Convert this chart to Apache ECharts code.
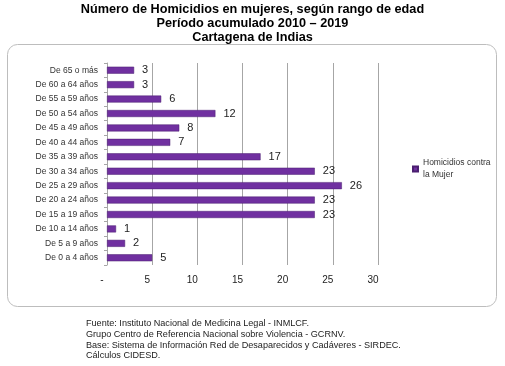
<!DOCTYPE html>
<html><head><meta charset="utf-8">
<script src="https://cdn.jsdelivr.net/npm/echarts@6/dist/echarts.min.js"></script>
<style>html,body{margin:0;padding:0;background:#fff}#c{width:505px;height:366px}</style>
</head><body><div id="c"></div>
<script>
const categories = ["De 0 a 4 años","De 5 a 9 años","De 10 a 14 años","De 15 a 19 años","De 20 a 24 años","De 25 a 29 años","De 30 a 34 años","De 35 a 39 años","De 40 a 44 años","De 45 a 49 años","De 50 a 54 años","De 55 a 59 años","De 60 a 64 años","De 65 o más"];
const values = [5,2,1,23,23,26,23,17,7,8,12,6,3,3];
const seriesName = "Homicidios contra\nla Mujer";
const titleLines = ["Número de Homicidios en mujeres, según rango de edad","Período acumulado 2010 – 2019","Cartagena de Indias"];
const footerLines = ["Fuente: Instituto Nacional de Medicina Legal - INMLCF.","Grupo Centro de Referencia Nacional sobre Violencia - GCRNV.","Base: Sistema de Información Red de Desaparecidos y Cadáveres - SIRDEC.","Cálculos CIDESD."];

const chart = echarts.init(document.getElementById('c'));
chart.setOption({
  animation:false,
  title:{text:titleLines.join('\n'),left:'center',top:-3,itemGap:0,padding:[5,0,5,7],
    textStyle:{fontFamily:'Liberation Sans',fontWeight:'bold',fontSize:12.7,lineHeight:14,color:'#000'}},
  graphic:[
    {type:'rect',shape:{x:7.5,y:44.5,width:489,height:262,r:10},style:{fill:'none',stroke:'#bdbdbd',lineWidth:1}},
    {type:'text',left:86,top:318,style:{text:footerLines.join('\n'),font:'9.1px "Liberation Sans"',lineHeight:10.8,fill:'#222'}}
  ],
  legend:{orient:'vertical',left:407,top:152,itemWidth:5,itemHeight:5,icon:'rect',itemGap:4,
    textStyle:{fontFamily:'Liberation Sans',fontSize:8.5,color:'#333',lineHeight:12}},
  grid:{left:107,right:127,top:63,bottom:101,containLabel:false},
  xAxis:{type:'value',min:0,max:30,interval:5,
    axisLine:{show:false},axisTick:{show:false},
    splitLine:{show:true,lineStyle:{color:'#a6a6a6',width:1}},
    axisLabel:{margin:10,padding:[0,10,0,0],fontFamily:'Liberation Sans',fontSize:10,color:'#222',
      formatter:v=>v===0?'-':String(v)}},
  yAxis:{type:'category',data:categories,
    axisLine:{show:true,lineStyle:{color:'#a6a6a6'}},
    axisTick:{show:true,length:3,lineStyle:{color:'#a6a6a6'}},
    axisLabel:{margin:9,fontFamily:'Liberation Sans',fontSize:8.5,color:'#333'}},
  series:[{name:seriesName,type:'bar',data:values,barWidth:7,
    itemStyle:{color:'#7030a0',borderColor:'#4b1f70',borderWidth:0.5},
    label:{show:true,position:'right',distance:8,fontFamily:'Liberation Sans',fontSize:11,color:'#222'}}]
});
</script></body></html>
